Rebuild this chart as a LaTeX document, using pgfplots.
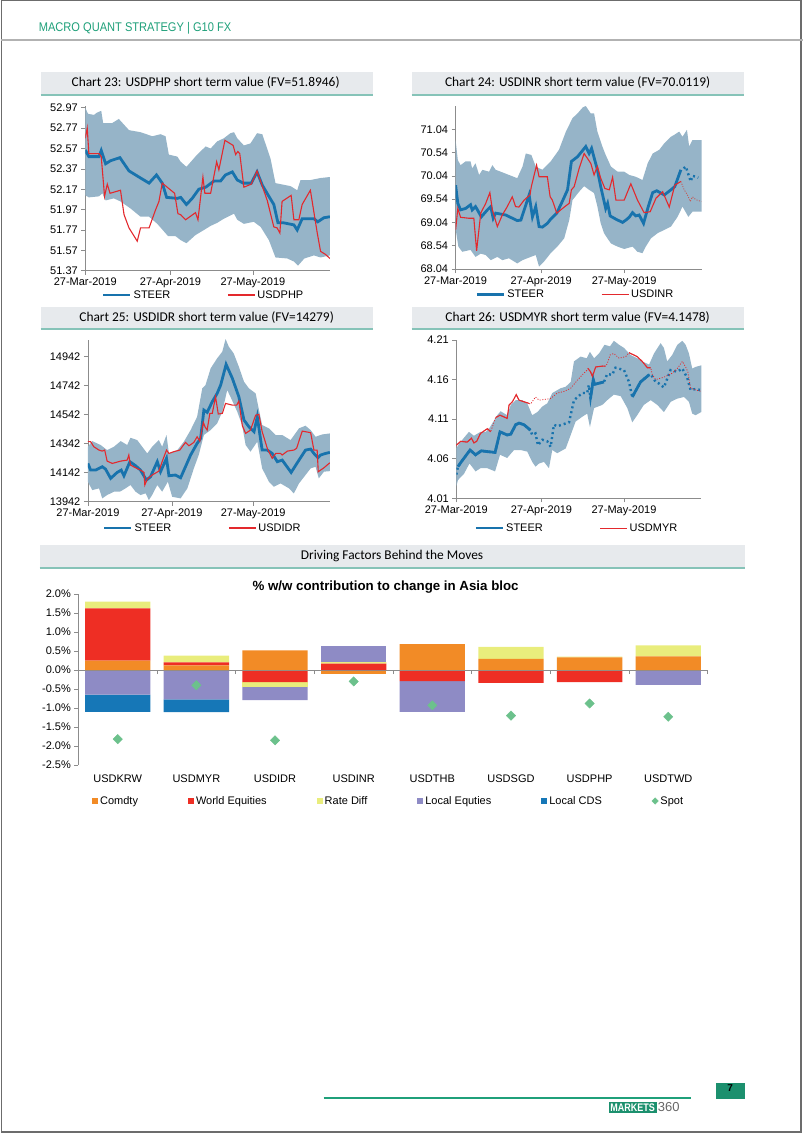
\documentclass[border=0pt]{standalone}
\usepackage{pgfplots}
\pgfplotsset{compat=1.18}
\usepgfplotslibrary{fillbetween}
\usepackage{fontspec}
\usepackage{graphicx}
\setmainfont{Liberation Sans}
\newfontfamily\calib{Carlito}
\definecolor{bandc}{HTML}{96B4C8}
\definecolor{steerc}{HTML}{1873AD}
\definecolor{spotred}{HTML}{E3292D}
\definecolor{dotred}{HTML}{C8504A}
\definecolor{axgray}{HTML}{8C8C8C}
\definecolor{boxgray}{HTML}{E7EAED}
\definecolor{tealln}{HTML}{86C3B8}
\definecolor{hdrgreen}{HTML}{1FA07A}
\definecolor{comc}{HTML}{F28B26}
\definecolor{wec}{HTML}{EE2E24}
\definecolor{rdc}{HTML}{E9ED7C}
\definecolor{lec}{HTML}{8E8BC5}
\definecolor{cdsc}{HTML}{1677B7}
\definecolor{spotc}{HTML}{6CC18C}
\newcommand{\fs}[1]{\fontsize{#1}{#1}\selectfont}

\pgfplotsset{
  lc/.style={
    scale only axis, anchor=south west, xmin=0,
    axis x line*=bottom, axis y line*=left,
    axis line style={draw=axgray, line width=0.7pt},
    tick style={draw=axgray, line width=0.7pt},
    tick align=outside, major tick length=4pt,
    scaled y ticks=false,
    xtick={0,31,61}, xticklabels={27-Mar-2019,27-Apr-2019,27-May-2019},
    tick label style={font=\fs{11}},
    /pgf/number format/assume math mode=true,
    legend columns=2,
    legend style={draw=none, fill=none, anchor=west, inner sep=0pt, font=\fs{11},
      /tikz/every even column/.append style={column sep=55pt}},
  },
  steer/.style={color=steerc, line width=2.8pt},
  spotln/.style={color=spotred, line width=1.1pt},
  band/.style={fill=bandc, draw=none, forget plot},
  blueleg/.style={legend image code/.code={\draw[steerc, line width=2.8pt, solid] (0pt,0pt) -- (27pt,0pt);}},
  redleg/.style={legend image code/.code={\draw[spotred, line width=1.1pt, solid] (0pt,0pt) -- (27pt,0pt);}},
  redlegthin/.style={legend image code/.code={\draw[spotred, line width=0.8pt, solid] (0pt,0pt) -- (27pt,0pt);}},
  barax/.style={scale only axis, anchor=south west, at={(77.8pt,-765pt)},
    width=629.2pt, height=171pt, xmin=-0.5, xmax=7.5, ymin=-2.5, ymax=2.0},
  sqlegend/.style={legend image code/.code={\fill[##1] (0pt,-3pt) rectangle (6pt,3pt);}},
  mklegend/.style={legend image code/.code={\draw[##1] plot coordinates {(3pt,0pt)};}},
}

\begin{document}
\begin{tikzpicture}
% page
\path (0pt,0pt) rectangle (802pt,-1133pt);
\draw[gray!85!black, line width=1.4pt] (0.7pt,-0.7pt) rectangle (800.3pt,-1131.8pt);
\node[anchor=west, text=hdrgreen, inner sep=0pt] at (38pt,-28pt) {\scalebox{0.88}[1]{\fs{12.6}MACRO QUANT STRATEGY | G10 FX}};
\draw[gray!60, line width=1.2pt] (0pt,-40pt) -- (802pt,-40pt);

% title boxes
\foreach \xa/\xb/\ya/\yb in {40/372/71.5/95, 411/743/71.5/95, 40/372/306.5/329, 411/743/306.5/329, 39/744/545/568}{
  \fill[boxgray] (\xa pt,-\ya pt) rectangle (\xb pt,-\yb pt);
  \draw[tealln, line width=1.4pt] (\xa pt,-\yb pt) -- (\xb pt,-\yb pt);
}
\node at (205pt,-83pt) {\calib\fs{13.4}Chart 23: USDPHP short term value (FV=51.8946)};
\node at (577pt,-83pt) {\calib\fs{13.4}Chart 24: USDINR short term value (FV=70.0119)};
\node at (206pt,-318pt) {\calib\fs{13.4}Chart 25: USDIDR short term value (FV=14279)};
\node at (577pt,-318pt) {\calib\fs{13.4}Chart 26: USDMYR short term value (FV=4.1478)};
\node at (391.5pt,-556pt) {\calib\fs{13.4}Driving Factors Behind the Moves};

% ---------------- Chart 23 ----------------
\begin{axis}[lc, at={(84.7pt,-270.7pt)}, width=244.6pt, height=165pt,
  xmax=89, ymin=51.37, ymax=52.99,
  ytick={51.37,51.57,51.77,51.97,52.17,52.37,52.57,52.77,52.97},
  yticklabels={51.37,51.57,51.77,51.97,52.17,52.37,52.57,52.77,52.97},
  legend style={at={(0.067,-0.147)}}]
\addplot[name path=u23, draw=none, forget plot] coordinates {
(0,52.97) (1.0,52.91) (3.2,52.90) (4.1,52.92) (5.8,52.94) (6.5,52.82) (9.8,52.82) (12.2,52.86) (15.9,52.75) (20.1,52.73) (24.4,52.69) (27.4,52.71) (29.2,52.69) (30.4,52.51) (33.5,52.49) (34.7,52.44) (36.8,52.39) (40.7,52.51) (43.8,52.59) (45.6,52.57) (48.0,52.64) (50.4,52.67) (52.8,52.72) (54.1,52.73) (55.3,52.67) (57.7,52.60) (60.1,52.62) (62.5,52.72) (64.4,52.71) (67.4,52.47) (69.2,52.23) (74.7,52.20) (77.1,52.16) (78.3,52.26) (81.9,52.26) (85.6,52.28) (89.0,52.29)};
\addplot[name path=l23, draw=none, forget plot] coordinates {
(0,52.11) (1.3,52.09) (5.0,52.10) (6.2,52.13) (7.4,52.06) (10.4,52.08) (12.8,52.05) (16.5,51.98) (20.1,51.90) (23.2,51.90) (26.2,51.83) (30.1,51.71) (32.8,51.71) (34.7,51.67) (36.8,51.64) (40.1,51.72) (43.2,51.77) (45.6,51.81) (48.0,51.84) (50.4,51.88) (54.1,51.93) (55.3,51.87) (57.7,51.83) (61.3,51.85) (63.8,51.80) (66.8,51.67) (69.2,51.50) (73.5,51.49) (75.9,51.46) (77.4,51.42) (79.7,51.49) (83.2,51.52) (85.6,51.50) (89.0,51.52)};
\addplot[band] fill between[of=u23 and l23];
\addplot[steer, forget plot] coordinates {
(0,52.555) (1.3,52.49) (5.0,52.49) (5.8,52.55) (7.4,52.42) (9.2,52.45) (12.6,52.48) (15.9,52.35) (19.5,52.29) (23.2,52.23) (25.9,52.31) (28.0,52.23) (29.6,52.09) (33.5,52.08) (34.7,52.09) (36.8,52.02) (38.9,52.08) (41.3,52.17) (43.8,52.19) (46.8,52.25) (49.2,52.25) (51.0,52.31) (53.5,52.34) (55.3,52.26) (57.5,52.23) (60.4,52.23) (62.5,52.34) (64.4,52.21) (66.8,52.10) (68.6,52.02) (70.1,51.84) (72.2,51.84) (75.9,51.82) (77.1,51.77) (78.9,51.88) (83.2,51.88) (84.6,51.85) (86.8,51.89) (89.0,51.90)};
\addplot[spotln, forget plot] coordinates {
(0,52.67) (0.7,52.77) (1.3,52.52) (5.0,52.52) (5.8,52.49) (7.0,52.10) (8.0,52.22) (9.0,52.13) (12.8,52.16) (14.1,51.92) (15.9,51.79) (18.9,51.66) (20.1,51.79) (23.2,51.79) (25.6,51.97) (26.8,52.05) (28.0,52.23) (29.8,52.19) (32.5,52.13) (33.7,51.93) (34.7,51.92) (36.5,51.87) (40.1,51.94) (41.0,51.87) (42.8,52.29) (43.5,52.13) (45.6,52.13) (47.8,52.44) (48.6,52.36) (50.8,52.65) (53.8,52.60) (54.7,52.51) (55.5,52.54) (56.2,52.52) (57.7,52.19) (60.4,52.22) (62.5,52.35) (64.4,52.20) (66.2,52.06) (68.6,51.80) (69.8,51.79) (70.8,51.74) (71.6,52.05) (74.9,52.11) (75.9,51.87) (77.7,51.87) (78.9,52.02) (81.9,52.16) (84.4,51.74) (85.6,51.56) (87.4,51.53) (89.0,51.49)};
\addlegendimage{blueleg}\addlegendentry{STEER}
\addlegendimage{redleg}\addlegendentry{USDPHP}
\end{axis}

% ---------------- Chart 24 ----------------
\begin{axis}[lc, at={(455pt,-269pt)}, width=246pt, height=163pt,
  xmax=89, ymin=68.04, ymax=71.54,
  ytick={68.04,68.54,69.04,69.54,70.04,70.54,71.04},
  yticklabels={68.04,68.54,69.04,69.54,70.04,70.54,71.04},
  legend style={at={(0.08,-0.155)}}]
\addplot[name path=u24, draw=none, forget plot] coordinates {
(0,70.81) (0.8,70.38) (1.8,70.27) (3.6,70.35) (5.4,70.35) (6.0,70.20) (7.2,70.31) (8.5,70.06) (9.7,70.17) (12.1,70.13) (13.3,70.27) (14.5,70.17) (16.3,70.13) (22.3,69.99) (24.2,70.24) (25.4,70.52) (27.4,70.49) (29.0,70.24) (31.4,70.17) (34.4,70.35) (37.4,70.60) (39.9,70.99) (42.3,71.28) (44.1,71.38) (46.0,71.51) (47.1,71.54) (48.9,71.38) (50.1,71.38) (51.3,70.99) (53.1,70.67) (54.3,70.49) (56.2,70.24) (58.6,70.13) (61.0,70.13) (62.8,70.06) (65.2,70.02) (67.6,69.95) (69.5,70.31) (71.3,70.52) (73.7,70.60) (75.5,70.74) (77.9,70.88) (79.1,70.92) (80.9,70.99) (82.1,70.88) (83.7,71.03) (84.5,70.67) (85.7,70.81) (89.0,70.81)};
\addplot[name path=l24, draw=none, forget plot] coordinates {
(0,68.90) (1.0,68.52) (2.4,68.41) (5.4,68.45) (7.2,68.30) (9.1,68.37) (10.9,68.34) (12.7,68.23) (15.1,68.30) (16.9,68.23) (19.3,68.27) (22.3,68.16) (24.2,68.23) (27.2,68.30) (29.0,68.34) (30.2,68.09) (32.0,68.20) (34.4,68.38) (36.8,68.52) (39.3,68.70) (41.1,69.09) (42.3,69.52) (44.7,69.70) (46.5,69.82) (48.3,69.74) (50.1,69.67) (51.3,69.38) (52.5,69.02) (53.7,68.81) (54.9,68.70) (56.2,68.59) (58.6,68.52) (61.0,68.47) (64.0,68.52) (65.8,68.41) (67.6,68.38) (68.8,68.52) (70.7,68.70) (73.1,68.81) (75.5,68.88) (77.9,68.95) (80.3,69.16) (82.1,69.38) (84.2,69.16) (85.7,69.27) (89.0,69.27)};
\addplot[band] fill between[of=u24 and l24];
\addplot[color=steerc, line width=2.4pt, dash pattern=on 2pt off 3pt, forget plot] coordinates {
(82.5,70.20) (83.3,70.24) (83.9,70.13) (84.5,70.02) (85.1,69.92) (85.7,70.04) (87.0,70.02) (87.8,70.00)};
\addplot[color=dotred, line width=0.8pt, dash pattern=on 1pt off 1.5pt, forget plot] coordinates {
(81.5,69.92) (82.7,69.74) (83.9,69.63) (84.9,69.49) (85.7,69.59) (86.9,69.53) (88.9,69.49)};
\addplot[steer, forget plot] coordinates {
(0,69.84) (0.8,69.45) (1.8,69.31) (3.6,69.34) (5.4,69.42) (6.0,69.31) (7.2,69.38) (7.9,69.31) (9.3,69.16) (11.5,69.31) (12.7,69.38) (13.6,69.13) (14.5,69.24) (18.1,69.20) (22.3,69.08) (23.6,69.09) (26.6,69.63) (27.8,69.16) (29.0,69.38) (30.2,68.95) (31.4,68.94) (33.2,69.02) (34.4,69.11) (36.6,69.24) (38.6,69.49) (40.5,69.74) (41.9,70.35) (44.1,70.45) (47.1,70.67) (48.3,70.52) (49.2,70.63) (51.3,70.17) (52.5,69.81) (54.3,69.34) (55.0,69.45) (55.9,69.18) (58.0,69.11) (60.4,69.04) (61.6,69.09) (62.8,69.15) (64.0,69.25) (65.2,69.18) (66.4,69.20) (68.0,69.02) (69.7,69.38) (71.3,69.68) (72.8,69.72) (75.5,69.63) (77.9,69.74) (79.3,69.81) (81.5,70.17)};
\addplot[spotln, forget plot] coordinates {
(0,68.88) (0.8,69.34) (1.8,69.15) (4.8,69.13) (6.6,69.13) (7.6,68.43) (9.1,69.24) (10.9,69.45) (12.4,69.68) (13.3,69.31) (15.1,68.95) (16.9,69.20) (18.7,69.38) (20.5,69.59) (21.7,69.38) (22.9,69.37) (24.8,69.52) (26.9,69.63) (27.4,69.81) (29.3,70.27) (30.2,70.02) (33.2,70.02) (34.2,69.59) (35.0,69.52) (36.6,69.24) (39.3,69.37) (41.1,69.45) (41.9,69.74) (42.9,69.81) (44.7,70.20) (46.5,70.52) (48.9,70.31) (50.1,70.06) (51.3,70.24) (52.5,69.99) (54.0,69.77) (55.6,69.74) (56.8,70.01) (58.0,69.52) (61.0,69.52) (63.4,69.87) (65.8,69.52) (68.2,69.25) (70.4,69.27) (72.5,69.56) (74.9,69.70) (77.3,69.37) (79.3,69.84) (81.5,69.92)};
\addlegendimage{blueleg}\addlegendentry{STEER}
\addlegendimage{redleg}\addlegendentry{USDINR}
\end{axis}

% ---------------- Chart 25 ----------------
\begin{axis}[lc, at={(87.3pt,-501.7pt)}, width=242pt, height=162.1pt,
  xmax=89.3, ymin=13942, ymax=15060,
  ytick={13942,14142,14342,14542,14742,14942},
  yticklabels={13942,14142,14342,14542,14742,14942},
  legend style={at={(0.061,-0.162)}}]
\addplot[name path=u25, draw=none, forget plot] coordinates {
(0,14321) (1.6,14360) (4.7,14333) (7.1,14298) (9.6,14321) (12.1,14360) (14.5,14333) (15.7,14383) (18.2,14367) (21.9,14275) (23.7,14321) (26.2,14367) (27.4,14321) (29.0,14402) (29.9,14275) (33.0,14298) (35.4,14356) (37.9,14436) (40.3,14528) (42.2,14724) (43.4,14747) (45.3,14862) (47.7,14931) (49.6,14977) (50.8,15064) (52.0,15011) (53.8,14965) (55.7,14873) (57.6,14770) (59.4,14724) (61.9,14689) (62.5,14632) (64.3,14471) (66.8,14448) (69.3,14402) (71.7,14402) (74.8,14367) (77.9,14448) (80.3,14466) (82.2,14436) (84.0,14390) (86.5,14406) (89.3,14413)};
\addplot[name path=l25, draw=none, forget plot] coordinates {
(0,14080) (1.6,14022) (4.1,14034) (5.3,13965) (7.1,13988) (9.6,14011) (11.8,14011) (13.9,14034) (15.7,14057) (17.6,14011) (19.4,13988) (21.3,14000) (22.5,13953) (23.7,13988) (25.6,14057) (27.4,14011) (29.5,14080) (31.1,13976) (34.2,13965) (36.7,14034) (39.1,14172) (40.9,14264) (42.8,14402) (45.3,14436) (47.7,14482) (49.6,14563) (51.4,14712) (52.6,14666) (55.1,14563) (56.9,14471) (58.2,14333) (60.0,14287) (62.5,14356) (64.3,14172) (66.8,14080) (68.6,14045) (71.1,14068) (74.2,14034) (76.0,13999) (77.9,14068) (80.3,14126) (82.2,14172) (84.0,14183) (85.2,14103) (87.1,14149) (89.3,14153)};
\addplot[band] fill between[of=u25 and l25];
\addplot[steer, forget plot] coordinates {
(0,14206) (1.0,14160) (2.8,14160) (5.3,14183) (6.5,14167) (8.4,14103) (10.8,14144) (12.3,14160) (13.3,14121) (15.5,14218) (17.6,14190) (19.4,14160) (21.6,14091) (23.1,14114) (25.6,14218) (26.8,14149) (29.0,14241) (29.9,14121) (32.3,14126) (34.2,14107) (36.0,14183) (37.9,14264) (40.3,14344) (41.6,14379) (42.8,14574) (44.0,14558) (45.9,14632) (47.7,14689) (49.0,14747) (51.0,14889) (53.3,14793) (55.7,14666) (57.6,14505) (59.4,14459) (61.3,14425) (62.5,14528) (64.3,14298) (66.2,14298) (68.0,14275) (69.9,14218) (71.7,14229) (75.0,14144) (77.9,14229) (80.3,14298) (82.2,14305) (83.4,14275) (84.9,14245) (85.9,14264) (87.7,14275) (89.3,14282)};
\addplot[spotln, forget plot] coordinates {
(0,14356) (1.0,14356) (2.2,14321) (4.1,14298) (5.3,14291) (6.2,14298) (7.1,14222) (9.0,14206) (12.1,14222) (14.5,14229) (15.1,14264) (15.7,14195) (17.6,14176) (19.4,14160) (20.7,14144) (21.0,14057) (21.9,14098) (23.7,14126) (26.2,14153) (27.4,14218) (29.0,14298) (29.9,14275) (31.7,14287) (33.9,14298) (36.0,14351) (37.3,14328) (39.1,14351) (40.3,14390) (41.3,14360) (42.6,14489) (43.2,14459) (44.0,14436) (45.0,14551) (45.9,14551) (47.1,14666) (48.1,14547) (49.6,14551) (50.8,14620) (53.3,14608) (54.9,14608) (55.7,14636) (57.0,14466) (58.2,14413) (60.0,14436) (61.9,14539) (63.1,14544) (64.3,14425) (66.2,14310) (68.0,14241) (69.3,14275) (71.1,14275) (71.7,14264) (73.6,14291) (76.0,14298) (77.0,14310) (79.1,14429) (82.2,14418) (83.4,14298) (84.6,14298) (85.0,14149) (87.1,14176) (89.3,14211)};
\addlegendimage{blueleg}\addlegendentry{STEER}
\addlegendimage{redleg}\addlegendentry{USDIDR}
\end{axis}

% ---------------- Chart 26 ----------------
\begin{axis}[lc, at={(455.7pt,-498.3pt)}, width=245pt, height=158.3pt,
  xmax=89.1, ymin=4.01, ymax=4.21,
  ytick={4.01,4.06,4.11,4.16,4.21},
  yticklabels={4.01,4.06,4.11,4.16,4.21},
  legend style={at={(0.073,-0.188)}}]
\addplot[name path=u26, draw=none, forget plot] coordinates {
(0,4.073) (1.0,4.079) (3.4,4.089) (4.6,4.094) (6.4,4.089) (8.8,4.094) (10.7,4.094) (11.9,4.098) (14.9,4.115) (16.1,4.120) (18.5,4.115) (19.8,4.128) (21.6,4.134) (24.0,4.134) (25.8,4.130) (27.6,4.115) (29.5,4.119) (31.3,4.126) (33.1,4.130) (34.9,4.143) (37.9,4.149) (39.8,4.151) (41.6,4.157) (42.8,4.183) (45.2,4.189) (47.4,4.187) (48.6,4.195) (50.1,4.187) (51.9,4.193) (53.9,4.204) (55.9,4.202) (57.3,4.209) (59.2,4.204) (61.0,4.200) (63.4,4.191) (65.8,4.187) (67.6,4.183) (70.1,4.179) (71.9,4.193) (74.3,4.206) (75.5,4.200) (76.7,4.183) (78.5,4.191) (80.4,4.204) (82.2,4.209) (83.4,4.204) (84.6,4.193) (85.8,4.174) (87.0,4.176) (89.1,4.178)};
\addplot[name path=l26, draw=none, forget plot] coordinates {
(0,4.025) (0.6,4.033) (2.8,4.041) (4.8,4.054) (7.0,4.044) (8.8,4.048) (11.3,4.048) (14.1,4.044) (15.9,4.065) (18.5,4.061) (21.0,4.071) (23.4,4.071) (25.8,4.069) (27.6,4.056) (28.8,4.050) (30.1,4.054) (31.9,4.056) (33.7,4.048) (34.9,4.071) (36.7,4.067) (39.8,4.073) (41.6,4.090) (43.4,4.107) (45.8,4.113) (47.6,4.117) (48.6,4.100) (50.1,4.124) (53.1,4.128) (54.9,4.134) (57.3,4.141) (59.8,4.139) (62.2,4.124) (64.0,4.106) (65.8,4.115) (68.2,4.128) (70.7,4.134) (73.1,4.128) (75.5,4.119) (78.0,4.132) (80.4,4.136) (82.8,4.138) (84.6,4.132) (85.8,4.117) (87.0,4.115) (89.1,4.119)};
\addplot[band] fill between[of=u26 and l26];
% dotted full paths
\addplot[color=steerc, line width=2.4pt, dash pattern=on 2pt off 3pt, forget plot] coordinates {
(0,4.040) (0.6,4.050) (1.8,4.056) (5.0,4.071) (7.0,4.065) (9.1,4.070) (11.3,4.069) (14.1,4.068) (15.9,4.094) (18.5,4.090) (19.8,4.091) (21.6,4.103) (22.8,4.105) (24.6,4.103) (27.0,4.096) (27.6,4.090) (28.8,4.092) (29.7,4.077) (31.3,4.084) (33.1,4.082) (34.3,4.075) (35.5,4.103) (36.7,4.101) (41.0,4.106) (42.8,4.134) (45.8,4.143) (47.6,4.143) (48.2,4.153) (48.8,4.136) (49.8,4.160) (50.3,4.154) (53.7,4.157) (54.9,4.167) (56.7,4.166) (57.9,4.175) (61.0,4.172) (62.8,4.157) (64.0,4.138) (67.0,4.157) (70.1,4.166) (70.7,4.167) (72.5,4.157) (73.7,4.155) (75.5,4.150) (77.9,4.172) (80.4,4.170) (82.2,4.174) (83.4,4.166) (84.0,4.162) (85.2,4.147) (87.0,4.148) (88.6,4.147)};
\addplot[color=spotred, line width=0.8pt, dash pattern=on 1pt off 1.6pt, forget plot] coordinates {
(0,4.077) (1.6,4.082) (4.0,4.081) (5.5,4.086) (6.4,4.080) (7.4,4.082) (8.8,4.092) (11.3,4.098) (12.5,4.094) (14.3,4.112) (15.9,4.115) (18.5,4.111) (19.2,4.128) (20.4,4.132) (21.8,4.141) (22.8,4.134) (24.6,4.132) (26.4,4.130) (27.0,4.129) (28.8,4.138) (30.1,4.134) (34.3,4.136) (36.7,4.143) (39.2,4.145) (41.6,4.149) (44.0,4.159) (45.8,4.166) (47.6,4.172) (47.9,4.174) (48.8,4.170) (49.5,4.164) (50.7,4.176) (53.1,4.177) (54.3,4.177) (54.9,4.180) (55.9,4.191) (57.3,4.193) (59.2,4.187) (61.6,4.189) (62.8,4.194) (65.8,4.189) (67.6,4.183) (69.5,4.175) (70.7,4.175) (71.3,4.166) (72.5,4.160) (75.5,4.163) (77.3,4.166) (78.5,4.168) (80.4,4.174) (82.2,4.183) (83.4,4.176) (84.2,4.170) (85.2,4.149) (87.0,4.147) (89.1,4.145)};
% solid segments
\addplot[steer, forget plot] coordinates {
(0.6,4.050) (1.8,4.056) (5.0,4.071) (7.0,4.065) (9.1,4.070) (11.3,4.069) (14.1,4.068) (15.9,4.094) (18.5,4.090) (19.8,4.091) (21.6,4.103) (22.8,4.105) (24.6,4.103) (27.0,4.096)};
\addplot[spotln, forget plot] coordinates {
(0,4.077) (1.6,4.082) (4.0,4.081) (5.5,4.086) (6.4,4.080) (7.4,4.082) (8.8,4.092) (11.3,4.098) (12.5,4.094)};
\addplot[steer, forget plot] coordinates {(48.8,4.136) (49.8,4.160) (50.3,4.154) (53.7,4.157)};
\addplot[steer, forget plot] coordinates {(64.0,4.138) (67.0,4.157) (70.1,4.166)};
\addplot[spotln, forget plot] coordinates {
(14.3,4.112) (15.9,4.115) (18.5,4.111) (19.2,4.128) (20.4,4.132) (21.8,4.141) (22.8,4.134) (24.6,4.132) (26.4,4.130)};
\addplot[spotln, forget plot] coordinates {(47.9,4.174) (48.8,4.170) (49.5,4.164) (50.7,4.176) (53.1,4.177) (54.3,4.177)};
\addplot[spotln, forget plot] coordinates {(62.8,4.194) (65.8,4.189) (67.6,4.183) (69.5,4.175) (70.7,4.175)};
\addlegendimage{blueleg}\addlegendentry{STEER}
\addlegendimage{redlegthin}\addlegendentry{USDMYR}
\end{axis}

% ---------------- Bar chart ----------------
\node at (385pt,-587pt) {\bfseries\fs{13.3}\% w/w contribution to change in Asia bloc};
% negative parts
\begin{axis}[barax, hide axis, ybar stacked, bar width=0.83]
\addplot[fill=comc, draw=none] coordinates {(0,0) (1,0) (2,0) (3,-0.10) (4,0) (5,0) (6,0) (7,0)};
\addplot[fill=wec, draw=none] coordinates {(0,0) (1,0) (2,-0.32) (3,0) (4,-0.29) (5,-0.34) (6,-0.32) (7,0)};
\addplot[fill=rdc, draw=none] coordinates {(0,0) (1,0) (2,-0.12) (3,0) (4,0) (5,0) (6,0) (7,0)};
\addplot[fill=lec, draw=none] coordinates {(0,-0.65) (1,-0.77) (2,-0.35) (3,0) (4,-0.81) (5,0) (6,0) (7,-0.39)};
\addplot[fill=cdsc, draw=none] coordinates {(0,-0.45) (1,-0.34) (2,0) (3,0) (4,0) (5,0) (6,0) (7,0)};
\end{axis}
% positive parts + axes + legend
\begin{axis}[barax, ybar stacked, bar width=0.83,
  axis x line*=middle, axis y line*=left,
  axis line style={draw=axgray, line width=0.7pt},
  ytick={-2.5,-2,-1.5,-1,-0.5,0,0.5,1,1.5,2},
  yticklabels={-2.5\%,-2.0\%,-1.5\%,-1.0\%,-0.5\%,0.0\%,0.5\%,1.0\%,1.5\%,2.0\%},
  y tick style={draw=axgray, line width=0.7pt}, ytick align=outside, major tick length=4pt,
  xtick={0,1,2,3,4,5,6,7},
  xticklabels={USDKRW,USDMYR,USDIDR,USDINR,USDTHB,USDSGD,USDPHP,USDTWD},
  major x tick style={draw=none},
  minor xtick={-0.5,0.5,1.5,2.5,3.5,4.5,5.5,6.5,7.5},
  minor x tick style={draw=axgray, line width=0.7pt}, minor tick length=4pt, xtick align=outside,
  xticklabel style={yshift=-97pt},
  tick label style={font=\fs{11}},
  /pgf/number format/assume math mode=true,
  legend columns=6,
  legend style={at={(0.0215,-0.2105)}, anchor=west, draw=none, fill=none, inner sep=0pt, font=\fs{11},
    /tikz/every even column/.append style={column sep=48pt}}]
\addplot[fill=comc, draw=none, sqlegend] coordinates {(0,0.25) (1,0.12) (2,0.52) (3,0) (4,0.68) (5,0.29) (6,0.33) (7,0.36)};
\addlegendentry{Comdty}
\addplot[fill=wec, draw=none, sqlegend] coordinates {(0,1.37) (1,0.08) (2,0) (3,0.17) (4,0) (5,0) (6,0) (7,0)};
\addlegendentry{World Equities}
\addplot[fill=rdc, draw=none, sqlegend] coordinates {(0,0.18) (1,0.18) (2,0) (3,0.04) (4,0) (5,0.32) (6,0.02) (7,0.29)};
\addlegendentry{Rate Diff}
\addplot[fill=lec, draw=none, sqlegend] coordinates {(0,0) (1,0) (2,0) (3,0.43) (4,0) (5,0) (6,0) (7,0)};
\addlegendentry{Local Equties}
\addplot[fill=cdsc, draw=none, sqlegend] coordinates {(0,0) (1,0) (2,0) (3,0) (4,0) (5,0) (6,0) (7,0)};
\addlegendentry{Local CDS}
\addlegendimage{mklegend, only marks, mark=square*, mark size=2.3pt, mark options={rotate=45, fill=spotc, draw=spotc}}
\addlegendentry{Spot}
\end{axis}
% spot markers
\begin{axis}[barax, hide axis]
\addplot[only marks, mark=square*, mark size=3.3pt, mark options={rotate=45, fill=spotc, draw=spotc}] coordinates {
(0,-1.82) (1,-0.40) (2,-1.85) (3,-0.30) (4,-0.93) (5,-1.20) (6,-0.88) (7,-1.23)};
\end{axis}

% footer
\draw[hdrgreen, line width=1.3pt] (323pt,-1098pt) -- (690pt,-1098pt);
\fill[hdrgreen!90!black] (715pt,-1083pt) rectangle (744pt,-1099pt);
\node at (729.5pt,-1088.5pt) {\bfseries\fs{10}7};
\fill[hdrgreen!90!black] (608pt,-1101.5pt) rectangle (656pt,-1113pt);
\node[text=white, inner sep=0pt] at (632pt,-1107.3pt) {\bfseries\scalebox{0.82}[1]{\fs{11}MARKETS}};
\node[anchor=west, text=gray!80!black, inner sep=0pt] at (657pt,-1107.3pt) {\fs{13}360};
\end{tikzpicture}
\end{document}
